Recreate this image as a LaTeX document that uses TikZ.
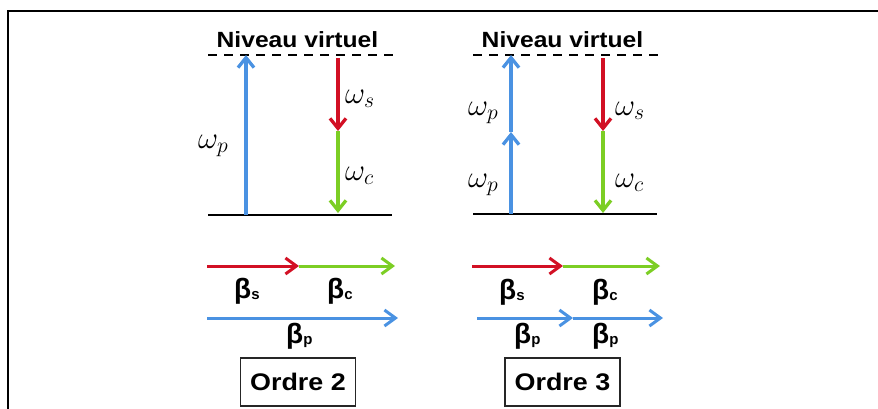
\documentclass[tikz,border=0pt]{standalone}
\usepackage{fix-cm}
\usepackage{fontspec}
\newfontfamily\lsf[FakeStretch=1.12]{Liberation Sans}
\newfontfamily\lsn{Liberation Sans}
\usetikzlibrary{arrows.meta}
\definecolor{cblue}{RGB}{74,146,226}
\definecolor{cred}{RGB}{210,16,36}
\definecolor{cgreen}{RGB}{124,206,36}
\tikzset{
  level/.style={line width=2.2pt, black},
  dlevel/.style={level, dash pattern=on 9pt off 7pt},
  vbeam/.style={line width=3.3pt, -{Straight Barb[length=10pt,width=16pt]}},
  hbeam/.style={line width=3pt, -{Straight Barb[length=11pt,width=16pt]}},
  nivlbl/.style={font=\lsf\bfseries\fontsize{22}{24}\selectfont, inner sep=0pt, anchor=base},
  wlbl/.style={font=\fontsize{31}{33}\selectfont, inner sep=0pt, anchor=base west},
  blbl/.style={font=\lsn\bfseries\fontsize{28}{30}\selectfont, inner sep=0pt, anchor=base west},
  ordbox/.style={draw=black!85, line width=1.3pt, minimum width=115pt, minimum height=48pt, inner sep=0pt,
    font=\lsf\bfseries\fontsize{24}{26}\selectfont},
  frameline/.style={line width=2pt, black}
}
\newcommand{\bsub}[1]{β\raisebox{-1pt}{\fontsize{15}{15}\selectfont #1}}
\begin{document}
\begin{tikzpicture}[x=1pt,y=-1pt]
\useasboundingbox (0,0) rectangle (878,408);
% outer frame
\coordinate (fbl) at (8,410);
\coordinate (ftl) at (8,11);
\coordinate (ftr) at (880,11);
\draw[frameline] (fbl) -- (ftl) -- (ftr);

% ===== Ordre 2 =====
\coordinate (v2L) at (208,55); \coordinate (v2R) at (393,55);
\coordinate (g2L) at (208,215); \coordinate (g2R) at (392,215);
\draw[dlevel] (v2L) -- (v2R);
\draw[level] (g2L) -- (g2R);
\node[nivlbl] (niv2) at (297.5,47) {Niveau virtuel};
\coordinate (p2a) at (246,215); \coordinate (p2b) at (246,55);
\draw[vbeam, cblue] (p2a) -- (p2b);
\coordinate (s2a) at (338,58); \coordinate (s2b) at (338,131); \coordinate (s2c) at (338,213);
\draw[vbeam, cred] (s2a) -- (s2b);
\draw[vbeam, cgreen] (s2b) -- (s2c);
\node[wlbl] (wp2) at (198,148) {$\omega_p$};
\node[wlbl] (ws2) at (345,103) {$\omega_s$};
\node[wlbl] (wc2) at (345,180) {$\omega_c$};
% momentum
\coordinate (hs2a) at (207,266); \coordinate (hs2b) at (299,266); \coordinate (hs2c) at (395,266);
\draw[hbeam, cred] (hs2a) -- (hs2b);
\draw[hbeam, cgreen] (hs2b) -- (hs2c);
\coordinate (hp2a) at (207,318); \coordinate (hp2b) at (398,318);
\draw[hbeam, cblue] (hp2a) -- (hp2b);
\node[blbl] (bs2) at (234,298) {\bsub{s}};
\node[blbl] (bc2) at (327,298) {\bsub{c}};
\node[blbl] (bp2) at (286,343) {\bsub{p}};
\node[ordbox] (o2) at (298,382) {Ordre 2};

% ===== Ordre 3 =====
\coordinate (v3L) at (473,55); \coordinate (v3R) at (658,55);
\coordinate (g3L) at (473,214); \coordinate (g3R) at (657,214);
\draw[dlevel] (v3L) -- (v3R);
\draw[level] (g3L) -- (g3R);
\node[nivlbl] (niv3) at (562.5,47) {Niveau virtuel};
\coordinate (p3a) at (511,214); \coordinate (p3b) at (511,132); \coordinate (p3c) at (511,55);
\draw[vbeam, cblue] (p3a) -- (p3b);
\draw[vbeam, cblue] (p3b) -- (p3c);
\coordinate (s3a) at (603,58); \coordinate (s3b) at (603,131); \coordinate (s3c) at (603,213);
\draw[vbeam, cred] (s3a) -- (s3b);
\draw[vbeam, cgreen] (s3b) -- (s3c);
\node[wlbl] (wp3a) at (468,115) {$\omega_p$};
\node[wlbl] (wp3b) at (468,187) {$\omega_p$};
\node[wlbl] (ws3) at (615,115) {$\omega_s$};
\node[wlbl] (wc3) at (615,187) {$\omega_c$};
% momentum
\coordinate (hs3a) at (472,266); \coordinate (hs3b) at (563,266); \coordinate (hs3c) at (660,266);
\draw[hbeam, cred] (hs3a) -- (hs3b);
\draw[hbeam, cgreen] (hs3b) -- (hs3c);
\coordinate (hp3a) at (477,318); \coordinate (hp3b) at (573,318); \coordinate (hp3c) at (663,318);
\draw[hbeam, cblue] (hp3a) -- (hp3b);
\draw[hbeam, cblue] (hp3b) -- (hp3c);
\node[blbl] (bs3) at (499,299) {\bsub{s}};
\node[blbl] (bc3) at (592,299) {\bsub{c}};
\node[blbl] (bp3a) at (514,343) {\bsub{p}};
\node[blbl] (bp3b) at (592,343) {\bsub{p}};
\node[ordbox] (o3) at (562.5,382) {Ordre 3};
\end{tikzpicture}
\end{document}
